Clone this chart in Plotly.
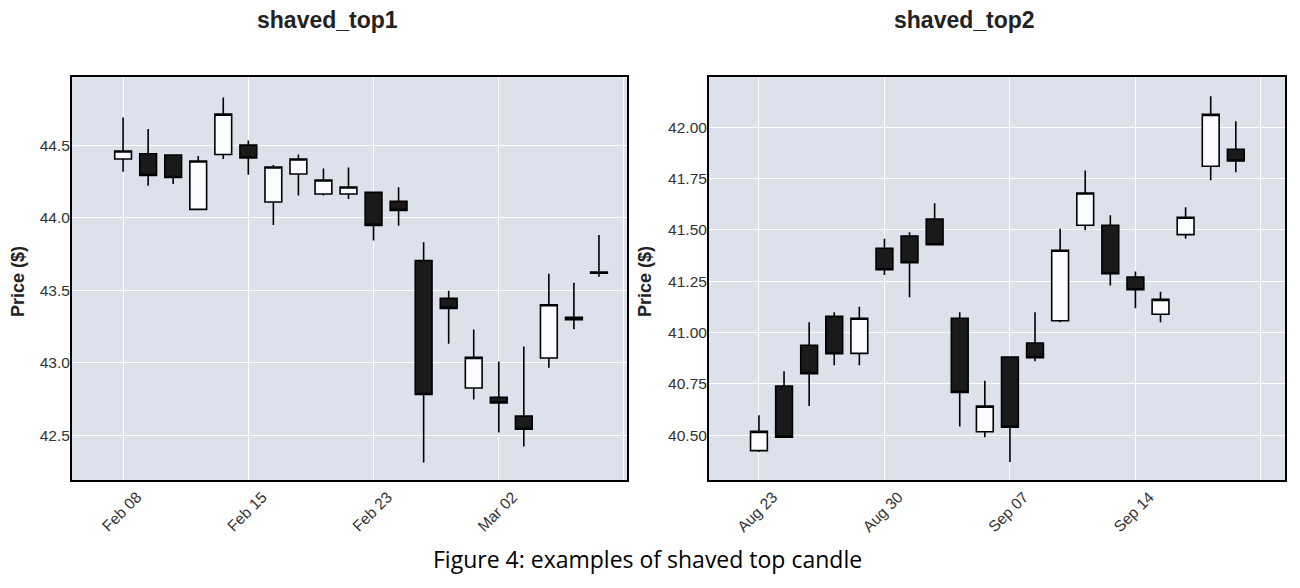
import plotly.graph_objects as go
from datetime import date

# ---- data: shaved_top1 (2018) ----
dates1 = ["2018-02-08", "2018-02-09", "2018-02-12", "2018-02-13", "2018-02-14",
          "2018-02-15", "2018-02-16", "2018-02-20", "2018-02-21", "2018-02-22",
          "2018-02-23", "2018-02-26", "2018-02-27", "2018-02-28", "2018-03-01",
          "2018-03-02", "2018-03-05", "2018-03-06", "2018-03-07", "2018-03-08"]
open1 = [44.404, 44.44, 44.431, 44.057, 44.435, 44.50, 44.108, 44.301, 44.163, 44.163,
         44.174, 44.112, 43.705, 43.444, 42.827, 42.763, 42.633, 43.033, 43.297, 43.626]
high1 = [44.69, 44.61, 44.431, 44.424, 44.827, 44.532, 44.363, 44.435, 44.339, 44.346,
         44.174, 44.209, 43.831, 43.497, 43.229, 43.009, 43.112, 43.613, 43.552, 43.881]
low1 = [44.317, 44.22, 44.232, 44.057, 44.404, 44.296, 43.95, 44.152, 44.152, 44.129,
        43.842, 43.945, 42.314, 43.132, 42.747, 42.521, 42.424, 42.967, 43.231, 43.593]
close1 = [44.459, 44.291, 44.277, 44.39, 44.713, 44.411, 44.349, 44.404, 44.259, 44.211,
          43.947, 44.05, 42.782, 43.375, 43.038, 42.724, 42.543, 43.40, 43.313, 43.618]

# ---- data: shaved_top2 (2021) ----
dates2 = ["2021-08-23", "2021-08-24", "2021-08-25", "2021-08-26", "2021-08-27",
          "2021-08-30", "2021-08-31", "2021-09-01", "2021-09-02", "2021-09-03",
          "2021-09-07", "2021-09-08", "2021-09-09", "2021-09-10", "2021-09-13",
          "2021-09-14", "2021-09-15", "2021-09-16", "2021-09-17", "2021-09-20"]
open2 = [40.425, 40.74, 40.938, 41.079, 40.899, 41.411, 41.47, 41.553, 41.07, 40.517,
         40.881, 40.949, 41.058, 41.523, 41.523, 41.271, 41.089, 41.477, 41.81, 41.893]
high2 = [40.597, 40.812, 41.05, 41.099, 41.126, 41.457, 41.489, 41.63, 41.099, 40.766,
         40.881, 41.099, 41.506, 41.789, 41.571, 41.297, 41.199, 41.61, 42.151, 42.029]
low2 = [40.418, 40.49, 40.642, 40.841, 40.841, 41.281, 41.172, 41.428, 40.542, 40.49,
        40.37, 40.86, 41.05, 41.498, 41.23, 41.118, 41.05, 41.457, 41.742, 41.781]
close2 = [40.519, 40.49, 40.80, 40.897, 41.07, 41.306, 41.34, 41.428, 40.709, 40.642,
          40.539, 40.878, 41.401, 41.68, 41.287, 41.209, 41.162, 41.562, 42.063, 41.836]

titles = ["shaved_top1", "shaved_top2"]
caption = "Figure 4: examples of shaved top candle"
yticks1 = [42.5, 43.0, 43.5, 44.0, 44.5]
yticks2 = [40.50, 40.75, 41.00, 41.25, 41.50, 41.75, 42.00]
tick_step = 5

W, H = 1300, 588
OFF = 8  # page body margin
FONT = "Liberation Sans, Arial, sans-serif"
BG = "#dce1ec"


def px(x):
    return (x - OFF) / W


def py(y):
    return 1 - (y - OFF) / H


def label(d):
    return date.fromisoformat(d).strftime("%b %d")


def ticks(dates):
    vals = list(range(0, len(dates) + 1, tick_step))
    txt = [label(dates[v]) if v < len(dates) else "" for v in vals]
    return vals, txt


fig = go.Figure()
for i, (d, o, h, l, c) in enumerate([(dates1, open1, high1, low1, close1),
                                      (dates2, open2, high2, low2, close2)]):
    sfx = "" if i == 0 else str(i + 1)
    fig.add_trace(go.Candlestick(
        x=list(range(len(d))), open=o, high=h, low=l, close=c,
        xaxis="x" + sfx, yaxis="y" + sfx,
        increasing=dict(fillcolor="#fbfcfe", line=dict(color="#000000", width=1.6)),
        decreasing=dict(fillcolor="#1a1a1a", line=dict(color="#000000", width=1.6)),
        whiskerwidth=0, showlegend=False, hoverinfo="skip",
    ))

axis_common = dict(showline=True, linecolor="#000000", linewidth=2, mirror=True,
                   gridcolor="#ffffff", gridwidth=1.3, zeroline=False, ticks="",
                   tickfont=dict(family=FONT, size=15.5, color="#333333"))

tv1, tt1 = ticks(dates1)
tv2, tt2 = ticks(dates2)

fig.update_layout(
    width=W, height=H,
    margin=dict(l=0, r=0, t=0, b=0),
    paper_bgcolor="#ffffff", plot_bgcolor=BG,
    boxgap=0.33, boxgroupgap=0,
    xaxis=dict(domain=[px(72), px(627)], range=[-2.04, 20.12], anchor="y",
               tickvals=tv1, ticktext=tt1, tickangle=-45, ticklabelshift=14,
               rangeslider=dict(visible=False), **axis_common),
    yaxis=dict(domain=[py(480), py(77)], range=[42.193, 44.969], anchor="x",
               tickvals=yticks1, tickformat=".1f", ticklabelstandoff=-3, **axis_common),
    xaxis2=dict(domain=[px(709), px(1285)], range=[-1.99, 20.96], anchor="y2",
                tickvals=tv2, ticktext=tt2, tickangle=-45, ticklabelshift=14,
                rangeslider=dict(visible=False), **axis_common),
    yaxis2=dict(domain=[py(480), py(77)], range=[40.282, 42.245], anchor="x2",
                tickvals=yticks2, tickformat=".2f", ticklabelstandoff=-3, **axis_common),
)

# titles
for xc, t in zip([327.5, 964.5], titles):
    fig.add_annotation(x=px(xc), y=py(20), xref="paper", yref="paper",
                       xanchor="center", yanchor="middle",
                       text="<b>" + t + "</b>", showarrow=False,
                       font=dict(family=FONT, size=23, color="#222222"))
# y-axis titles
for xc in [18, 645]:
    fig.add_annotation(x=px(xc), y=py(282), xref="paper", yref="paper",
                       xanchor="center", yanchor="middle",
                       text="<b>Price ($)</b>", showarrow=False, textangle=-90,
                       font=dict(family=FONT, size=18, color="#222222"))
# caption
fig.add_annotation(x=px(647), y=py(559), xref="paper", yref="paper",
                   xanchor="center", yanchor="middle",
                   text=caption, showarrow=False,
                   font=dict(family="Open Sans, sans-serif", size=23, color="#000000"))

fig.write_html("out.html")
